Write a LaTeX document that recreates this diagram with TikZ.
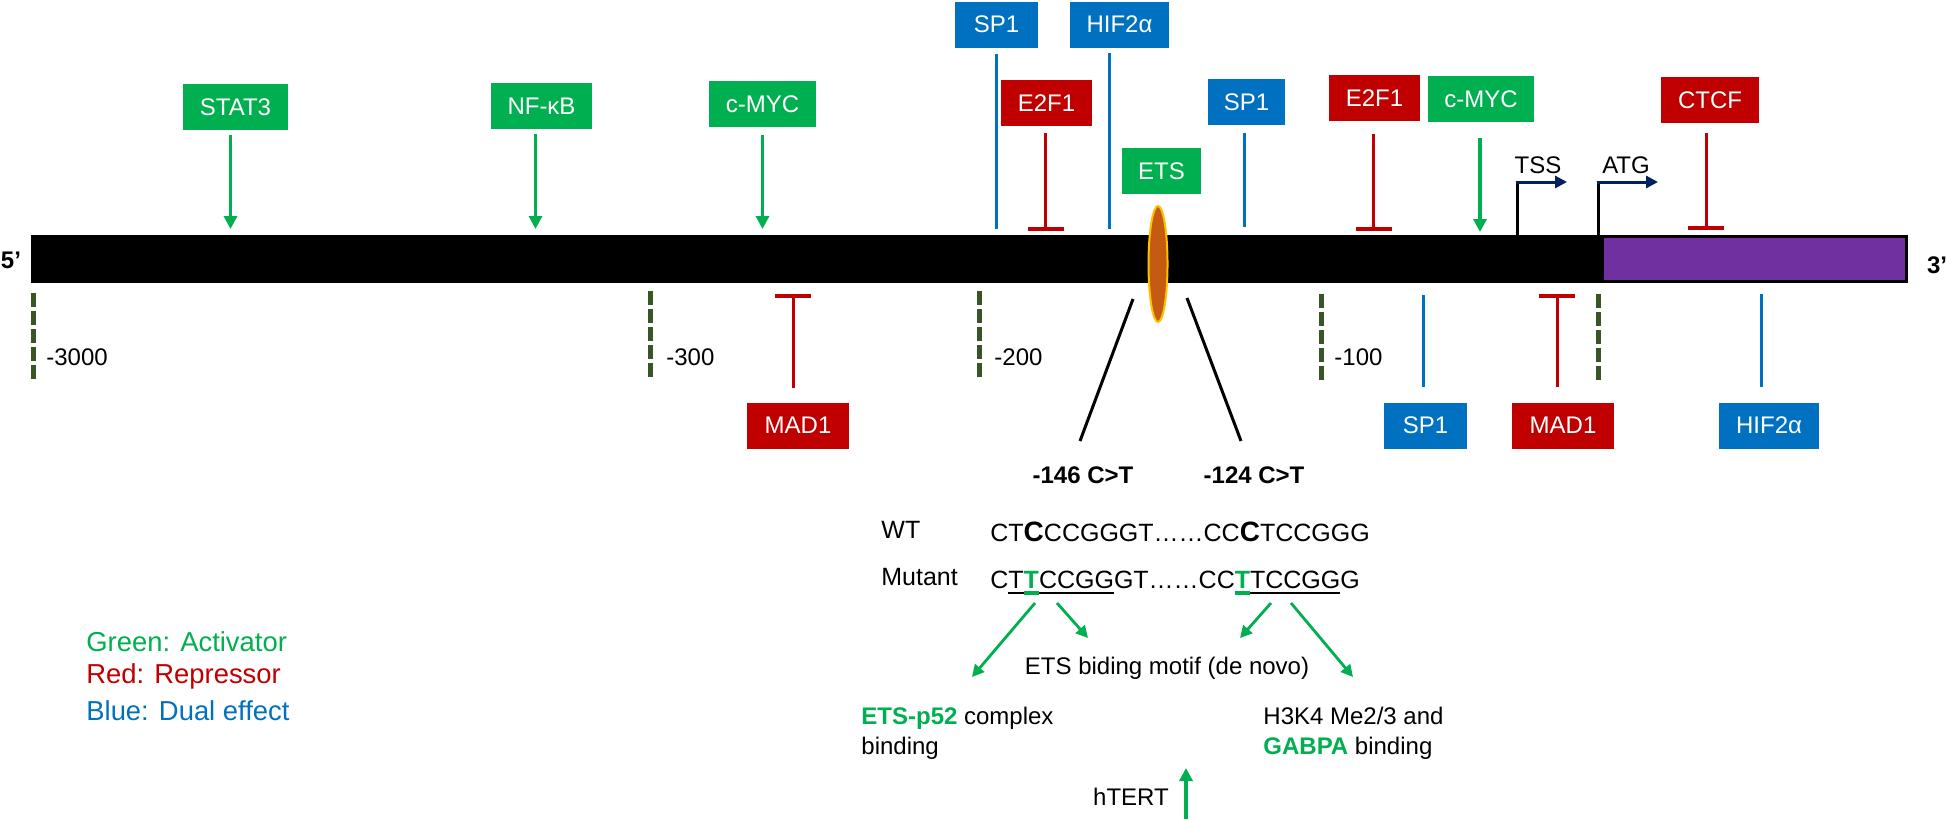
\documentclass[tikz,border=0pt]{standalone}
\usepackage{fontspec}
\setmainfont{Liberation Sans}
\usetikzlibrary{arrows.meta,shapes.geometric,calc}
\definecolor{mgreen}{HTML}{00B050}
\definecolor{mred}{HTML}{C00000}
\definecolor{mblue}{HTML}{0070C0}
\definecolor{mpurple}{HTML}{7030A0}
\definecolor{mnavy}{HTML}{002060}
\definecolor{dgreen}{HTML}{375623}
\definecolor{morange}{HTML}{C55A11}
\definecolor{mgold}{HTML}{FFC000}
\newcommand\fsz{\fontsize{12}{15}\selectfont}
\newcommand\fseq{\fontsize{12.5}{15}\selectfont}
\newcommand\fleg{\fontsize{13.7}{17}\selectfont}
\newcommand{\myulb}[1]{\setbox0=\hbox{#1}\rlap{\rule[-3pt]{\wd0}{0.9pt}}\box0}
\newcommand{\myulg}[1]{\setbox0=\hbox{\textcolor{mgreen}{\bfseries #1}}\rlap{\textcolor{mgreen}{\rule[-3.6pt]{\wd0}{2pt}}}\box0}
\begin{document}
\begin{tikzpicture}[x=0.5pt,y=-0.5pt,
  tf/.style={font=\fsz, inner sep=0pt},
  bx/.style={minimum width=#1*0.5pt, minimum height=23pt, inner sep=0pt, text=white, font=\fsz},
  gbox/.style={bx=#1, fill=mgreen},
  rbox/.style={bx=#1, fill=mred},
  bbox/.style={bx=#1, fill=mblue},
  act/.style={draw=mgreen, line width=1.6pt, -{Triangle[length=6.5pt,width=6.5pt]}},
  inh/.style={draw=mred, line width=1.5pt, -{Bar[width=18pt,line width=2pt]}},
  dual/.style={draw=mblue, line width=1.5pt},
  tickline/.style={draw=dgreen, line width=2.5pt, dash pattern=on 7pt off 2pt},
  zline/.style={draw=black, line width=1.5pt},
  sarr/.style={draw=mgreen, line width=1.4pt, -{Triangle[length=6pt,width=6pt]}},
  startarr/.style={draw=mnavy, line width=1.5pt, -{Triangle[length=6pt,width=6pt]}},
]
\useasboundingbox (0,0) rectangle (1946,819);

% gene bar
\node[fill=black, inner sep=0pt, minimum width=785pt, minimum height=24pt, anchor=north west] (bar) at (31,235) {};
\node[fill=mpurple, draw=black, line width=1.5pt, inner sep=0pt, minimum width=152pt, minimum height=22.5pt, anchor=north west] (cds) at (1601,235) {};
\node[font=\fsz\bfseries, inner sep=0pt] (p5) at (11,260) {5’};
\node[font=\fsz\bfseries, inner sep=0pt] (p3) at (1937,265) {3’};

% ETS site
\node[ellipse, fill=morange, draw=mgold, line width=1pt, minimum width=9.5pt, minimum height=58pt, inner sep=0pt] (etsite) at (1158,264) {};

% top boxes
\node[gbox=105] (stat3) at (235.5,107) {STAT3};
\node[gbox=101] (nfkb) at (541.5,106) {NF-κB};
\node[gbox=107] (cmyca) at (762.5,104) {c-MYC};
\node[bbox=83] (sp1a) at (996.5,24.5) {SP1};
\node[bbox=99] (hifa) at (1119.5,24.5) {HIF2α};
\node[rbox=91] (e2f1a) at (1046.5,103) {E2F1};
\node[gbox=79] (ets) at (1161.5,171) {ETS};
\node[bbox=77] (sp1b) at (1246.5,102) {SP1};
\node[rbox=91] (e2f1b) at (1374.5,98) {E2F1};
\node[gbox=106] (cmycb) at (1481,99) {c-MYC};
\node[rbox=98] (ctcf) at (1710,100) {CTCF};

% bottom boxes
\node[rbox=102] (mad1a) at (798,425.5) {MAD1};
\node[bbox=83] (sp1c) at (1425.5,425.5) {SP1};
\node[rbox=102] (mad1b) at (1563,425.5) {MAD1};
\node[bbox=100] (hifb) at (1769,425.5) {HIF2α};

% top connectors
\draw[act] ($(stat3.south)+(-5,5)$) -- ($(stat3.south |- bar.north)+(-5,-6)$);
\draw[act] ($(nfkb.south)+(-6,5)$) -- ($(nfkb.south |- bar.north)+(-6,-6)$);
\draw[act] ($(cmyca.south)+(0,8)$) -- ($(cmyca.south |- bar.north)+(0,-6)$);
\draw[dual] ($(sp1a.south)+(0,6)$) -- ($(sp1a.south |- bar.north)+(0,-6)$);
\draw[dual] ($(hifa.south)+(-10,5)$) -- ($(hifa.south |- bar.north)+(-10,-6)$);
\draw[inh] ($(e2f1a.south)+(-1,7)$) -- ($(e2f1a.south |- bar.north)+(-1,-4)$);
\draw[dual] ($(sp1b.south)+(-2,8)$) -- ($(sp1b.south |- bar.north)+(-2,-8)$);
\draw[inh] ($(e2f1b.south)+(-1,13)$) -- ($(e2f1b.south |- bar.north)+(-1,-4)$);
\draw[act] ($(cmycb.south)+(-1,16)$) -- ($(cmycb.south |- bar.north)+(-1,-3)$);
\draw[inh] ($(ctcf.south)+(-4,10)$) -- ($(ctcf.south |- cds.north)+(-4,-5)$);

% bottom connectors
\draw[inh] ($(mad1a.north)+(-5,-14)$) -- ($(mad1a.north |- bar.south)+(-5,10)$);
\draw[dual] ($(sp1c.north)+(-2,-15)$) -- ($(sp1c.north |- bar.south)+(-2,11)$);
\draw[inh] ($(mad1b.north)+(-6,-15)$) -- ($(mad1b.north |- bar.south)+(-6,10)$);
\draw[dual] ($(hifb.north)+(-8,-15)$) -- ($(hifb.north |- cds.south)+(-8,11)$);

% TSS / ATG
\coordinate (tss) at (1517,235);
\coordinate (tssT) at (1517,182);
\coordinate (tssE) at (1567,182);
\coordinate (atg) at (1598,235);
\coordinate (atgT) at (1598,182);
\coordinate (atgE) at (1658,182);
\draw[line width=1.5pt] (tss) -- (tssT);
\draw[startarr] ([xshift=-0.75pt]tssT) -- (tssE);
\draw[line width=1.5pt] (atg) -- (atgT);
\draw[startarr] ([xshift=-0.75pt]atgT) -- (atgE);
\node[tf] (tsslab) at (1538,165) {TSS};
\node[tf] (atglab) at (1626,165) {ATG};

% position ticks
\draw[tickline] (33,293) -- (33,382);
\draw[tickline] (650,291) -- (650,380);
\draw[tickline] (979,291) -- (979,380);
\draw[tickline] (1321,294) -- (1321,382);
\draw[tickline] (1598,294) -- (1598,382);
\node[tf, anchor=west] (t3000) at (46,357) {-3000};
\node[tf, anchor=west] (t300) at (666,357) {-300};
\node[tf, anchor=west] (t200) at (994,357) {-200};
\node[tf, anchor=west] (t100) at (1334,357) {-100};

% zoom lines and mutation labels
\node[font=\fsz\bfseries, inner sep=0pt] (m146) at (1083,475) {-146 C>T};
\node[font=\fsz\bfseries, inner sep=0pt] (m124) at (1254,475) {-124 C>T};
\coordinate (zl1) at (1133,299);
\coordinate (zl2) at (1080,441);
\coordinate (zr1) at (1187,298);
\coordinate (zr2) at (1241,441);
\draw[zline] (zl1) -- (zl2);
\draw[zline] (zr1) -- (zr2);

% sequences
\node[font=\fseq, inner sep=0pt, anchor=base west] (wt) at (881,538) {WT};
\node[font=\fseq, inner sep=0pt, anchor=base west] (mut) at (881,585) {Mutant};
\node[font=\fseq, inner sep=0pt, anchor=base west] (wtseq) at (990,541)
  {CT{\fontsize{14}{15}\selectfont\bfseries C}CCGGGT……CC{\fontsize{14}{15}\selectfont\bfseries C}TCCGGG};
\node[font=\fseq, inner sep=0pt, anchor=base west] (mutseq) at (990,588)
  {C\myulb{T}\myulg{T}\myulb{CCGG}GT……CC\myulg{T}\myulb{TCCGG}G};

% effect arrows
\coordinate (s1a) at (1035,603); \coordinate (s1b) at (972,677);
\coordinate (s2a) at (1057,603); \coordinate (s2b) at (1088,638);
\coordinate (s3a) at (1271,603); \coordinate (s3b) at (1240,638);
\coordinate (s4a) at (1291,603); \coordinate (s4b) at (1353,677);
\draw[sarr] (s1a) -- (s1b);
\draw[sarr] (s2a) -- (s2b);
\draw[sarr] (s3a) -- (s3b);
\draw[sarr] (s4a) -- (s4b);

\node[tf] (motif) at (1167,668) {ETS biding motif (de novo)};
\node[tf, anchor=west, align=left] (etsp52) at (861,733)
  {\textcolor{mgreen}{\bfseries ETS-p52} complex\\binding};
\node[tf, anchor=west, align=left] (gabpa) at (1263,733)
  {H3K4 Me2/3 and\\\textcolor{mgreen}{\bfseries GABPA} binding};

\node[tf] (htert) at (1131,797) {hTERT};
\coordinate (hA) at (1186,819);
\coordinate (hB) at (1186,768);
\draw[act, line width=1.75pt] (hA) -- (hB);

% legend
\node[font=\fleg, text=mgreen, inner sep=0pt, anchor=west] (lg1) at (86,642) {Green: Activator};
\node[font=\fleg, text=mred, inner sep=0pt, anchor=west] (lg2) at (86,676) {Red: Repressor};
\node[font=\fleg, text=mblue, inner sep=0pt, anchor=west] (lg3) at (86,711) {Blue: Dual effect};
\end{tikzpicture}
\end{document}
